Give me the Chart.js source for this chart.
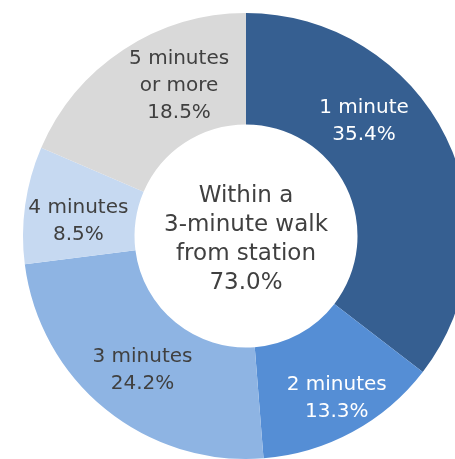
<!DOCTYPE html>
<html>
<head>
<meta charset="utf-8">
<script src="https://cdn.jsdelivr.net/npm/chart.js@4"></script>
<style>
  html, body { margin: 0; padding: 0; background: #fff; overflow: hidden; width: 455px; height: 459px; }
  canvas { display: block; }
</style>
</head>
<body>
<canvas id="donut" width="492" height="472"></canvas>
<script>
const categories = ['1 minute', '2 minutes', '3 minutes', '4 minutes', '5 minutes\nor more'];
const shares = [35.4, 13.3, 24.2, 8.5, 18.5];
const centerLines = ['Within a', '3-minute walk', 'from station', '73.0%'];

const sliceColors = ['#365F91', '#558ED5', '#8EB4E3', '#C6D9F1', '#D9D9D9'];
const textColors = ['#fff', '#fff', '#404040', '#404040', '#404040'];
// nudges so labels sit where the original puts them
const labelNudge = [[-32, -41], [11, 15], [2, 5], [-2, 9], [25, -10]];

const FONT = '"DejaVu Sans", Verdana, sans-serif';

const labelPlugin = {
  id: 'sliceLabels',
  afterDatasetsDraw(chart) {
    const ctx = chart.ctx;
    const arcs = chart.getDatasetMeta(0).data;
    ctx.save();
    ctx.textAlign = 'center';
    ctx.textBaseline = 'middle';
    ctx.font = '20px ' + FONT;
    arcs.forEach((arc, i) => {
      const mid = (arc.startAngle + arc.endAngle) / 2;
      const r = (arc.innerRadius + arc.outerRadius) / 2;
      const x = arc.x + Math.cos(mid) * r + labelNudge[i][0];
      const y = arc.y + Math.sin(mid) * r + labelNudge[i][1];
      const lines = categories[i].split('\n').concat(shares[i].toFixed(1) + '%');
      const lh = 27;
      const top = y - (lines.length - 1) * lh / 2;
      ctx.fillStyle = textColors[i];
      lines.forEach((t, k) => ctx.fillText(t, x, top + k * lh));
    });

    // centre text
    const a = chart.chartArea;
    const cx = (a.left + a.right) / 2;
    const cy = (a.top + a.bottom) / 2 + 4;
    ctx.font = '23px ' + FONT;
    ctx.fillStyle = '#404040';
    const lh2 = 29;
    const top2 = cy - (centerLines.length - 1) * lh2 / 2;
    centerLines.forEach((t, k) => ctx.fillText(t, cx, top2 + k * lh2));
    ctx.restore();
  }
};

new Chart(document.getElementById('donut').getContext('2d'), {
  type: 'doughnut',
  data: {
    labels: categories,
    datasets: [{
      data: shares,
      backgroundColor: sliceColors,
      borderWidth: 0
    }]
  },
  options: {
    responsive: false,
    devicePixelRatio: 1,
    animation: false,
    cutout: '50%',
    layout: { padding: { left: 23, right: 23, top: 13, bottom: 13 } },
    plugins: {
      legend: { display: false },
      tooltip: { enabled: false }
    }
  },
  plugins: [labelPlugin]
});
</script>
</body>
</html>
